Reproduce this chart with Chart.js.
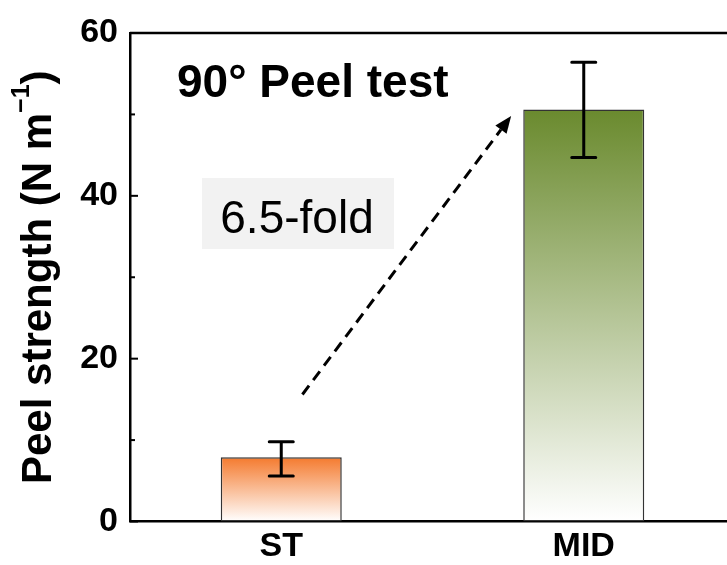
<!DOCTYPE html>
<html><head><meta charset="utf-8">
<script src="https://cdn.jsdelivr.net/npm/chart.js@4.4.0/dist/chart.umd.min.js"></script>
<style>
html,body{margin:0;padding:0;background:#fff;overflow:hidden;width:727px;height:565px}
#wrap{width:750px;height:565px;position:relative}
</style></head>
<body><div id="wrap"><canvas id="c"></canvas></div>
<script>
const categories = ['ST', 'MID'];
const peelStrength = [7.9, 50.6];
const errLow = [5.6, 44.7];
const errHigh = [9.8, 56.4];
const yMajorTicks = [0, 20, 40, 60];
const yMinorTicks = [10, 30, 50];
const barTopColors = ['#f47a2e', '#6a8a2e'];
const barBottomColors = ['#ffffff', '#ffffff'];
const titleText = '90° Peel test';
const foldText = '6.5-fold';
const arrowFrom = { x: 0.07, y: 15.6 };
const arrowTo = { x: 0.76, y: 49.8 };

const FONT = "'Liberation Sans', Arial, sans-serif";

function barFill(c) {
  const chart = c.chart;
  const ca = chart.chartArea;
  const i = c.dataIndex;
  if (!ca || i === undefined) return barTopColors[i || 0];
  const y = chart.scales.y;
  const top = y.getPixelForValue(peelStrength[i]);
  const bot = y.getPixelForValue(0);
  const g = chart.ctx.createLinearGradient(0, top, 0, bot);
  g.addColorStop(0, barTopColors[i]);
  g.addColorStop(1, barBottomColors[i]);
  return g;
}

const overlay = {
  id: 'overlay',
  afterDatasetsDraw(chart) {
    const ctx = chart.ctx;
    const ca = chart.chartArea;
    const xs = chart.scales.x, ys = chart.scales.y;
    ctx.save();
    // top frame line
    ctx.strokeStyle = '#000';
    ctx.lineWidth = 2.5;
    ctx.beginPath();
    ctx.moveTo(ca.left, ca.top);
    ctx.lineTo(ca.right, ca.top);
    ctx.stroke();
    // inward ticks
    ctx.lineWidth = 2;
    yMajorTicks.forEach(v => {
      const p = ys.getPixelForValue(v);
      ctx.beginPath(); ctx.moveTo(ca.left, p); ctx.lineTo(ca.left + 8, p); ctx.stroke();
    });
    yMinorTicks.forEach(v => {
      const p = ys.getPixelForValue(v);
      ctx.beginPath(); ctx.moveTo(ca.left, p); ctx.lineTo(ca.left + 5, p); ctx.stroke();
    });
    // error bars
    ctx.lineWidth = 3;
    ctx.lineCap = 'round';
    categories.forEach((c, i) => {
      const x = xs.getPixelForValue(i);
      const yl = ys.getPixelForValue(errLow[i]);
      const yh = ys.getPixelForValue(errHigh[i]);
      ctx.beginPath();
      ctx.moveTo(x, yl); ctx.lineTo(x, yh);
      ctx.moveTo(x - 12, yl); ctx.lineTo(x + 12, yl);
      ctx.moveTo(x - 12, yh); ctx.lineTo(x + 12, yh);
      ctx.stroke();
    });
    // title text
    ctx.fillStyle = '#000';
    ctx.font = 'bold 46px ' + FONT;
    ctx.textAlign = 'left';
    ctx.textBaseline = 'alphabetic';
    ctx.fillText(titleText, ca.left + 47, ca.top + 64);
    // fold box
    ctx.fillStyle = '#f2f2f2';
    ctx.fillRect(ca.left + 72, ca.top + 145, 192, 71);
    ctx.fillStyle = '#000';
    ctx.font = '46px ' + FONT;
    ctx.textAlign = 'center';
    ctx.fillText(foldText, ca.left + 167, ca.top + 200);
    // dashed arrow
    const x0 = xs.getPixelForValue(0) + arrowFrom.x * (xs.getPixelForValue(1) - xs.getPixelForValue(0));
    const y0 = ys.getPixelForValue(arrowFrom.y);
    const x1 = xs.getPixelForValue(0) + arrowTo.x * (xs.getPixelForValue(1) - xs.getPixelForValue(0));
    const y1 = ys.getPixelForValue(arrowTo.y);
    const ang = Math.atan2(y1 - y0, x1 - x0);
    const hl = 17, hw = 7;
    const bx = x1 - hl * Math.cos(ang), by = y1 - hl * Math.sin(ang);
    ctx.lineCap = 'butt';
    ctx.setLineDash([11, 7]);
    ctx.lineWidth = 3;
    ctx.beginPath(); ctx.moveTo(x0, y0); ctx.lineTo(bx, by); ctx.stroke();
    ctx.setLineDash([]);
    ctx.beginPath();
    ctx.moveTo(x1, y1);
    ctx.lineTo(bx + hw * Math.sin(ang), by - hw * Math.cos(ang));
    ctx.lineTo(bx - hw * Math.sin(ang), by + hw * Math.cos(ang));
    ctx.closePath();
    ctx.fill();
    // y axis title with superscript
    const cy = (ca.top + ca.bottom) / 2;
    ctx.translate(51, cy);
    ctx.rotate(-Math.PI / 2);
    const mainFont = 'bold 42px ' + FONT, supFont = 'bold 25px ' + FONT;
    const p1 = 'Peel strength (N m', sup = '\u22121', p2 = ')';
    ctx.font = mainFont; const w1 = ctx.measureText(p1).width; const w3 = ctx.measureText(p2).width;
    ctx.font = supFont; const w2 = ctx.measureText(sup).width;
    const total = w1 + w2 + w3;
    let sx = -total / 2;
    ctx.textAlign = 'left';
    ctx.font = mainFont; ctx.fillText(p1, sx, 0); sx += w1;
    ctx.font = supFont; ctx.fillText(sup, sx, -22); sx += w2;
    ctx.font = mainFont; ctx.fillText(p2, sx, 0);
    ctx.restore();
  }
};

new Chart(document.getElementById('c'), {
  type: 'bar',
  data: {
    labels: categories,
    datasets: [{
      data: peelStrength,
      backgroundColor: barFill,
      borderColor: '#333',
      borderWidth: 1.5,
      borderSkipped: false,
      barPercentage: 0.8,
      categoryPercentage: 0.5
    }]
  },
  options: {
    responsive: true,
    maintainAspectRatio: false,
    animation: false,
    layout: { padding: { top: 33, right: 15, left: 0, bottom: 0 } },
    plugins: { legend: { display: false }, tooltip: { enabled: false } },
    scales: {
      x: {
        grid: { display: false, drawTicks: false },
        border: { display: true, color: '#000', width: 2.5 },
        ticks: { color: '#000', font: { family: FONT, size: 34, weight: 'bold' }, padding: 5 },
        afterFit: s => { s.height = 43.5; }
      },
      y: {
        min: 0, max: 60,
        grid: { display: false, drawTicks: false },
        border: { display: true, color: '#000', width: 2.5 },
        ticks: { stepSize: 20, color: '#000', font: { family: FONT, size: 34, weight: 'bold' }, padding: 12 },
        afterFit: s => { s.width = 130; }
      }
    }
  },
  plugins: [overlay]
});
</script>
</body></html>
